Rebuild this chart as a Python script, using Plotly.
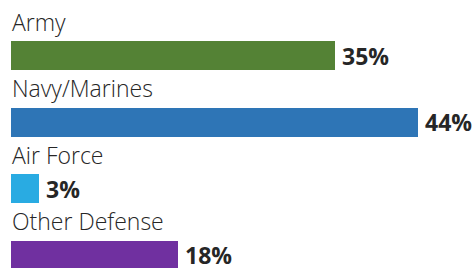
import plotly.graph_objects as go

categories = ["Army", "Navy/Marines", "Air Force", "Other Defense"]
values = [35, 44, 3, 18]
colors = ["#548235", "#2E75B6", "#29ABE2", "#7030A0"]

W, H = 476, 268
px_per_unit = 9.26
left = 11            # page x of zero
first_center = 55.5  # page y of first bar center
step = 66.5
bar_px = 29

pos = list(range(len(categories)))

fig = go.Figure()
fig.add_trace(go.Bar(
    x=values, y=pos, orientation="h",
    marker=dict(color=colors, line=dict(width=0)),
    width=bar_px / step,
    hoverinfo="skip",
))

annotations = []
for i, (c, v) in enumerate(zip(categories, values)):
    annotations.append(dict(
        x=0, y=i - 34 / step, xref="x", yref="y",
        text=c, showarrow=False, xanchor="left", yanchor="middle",
        font=dict(family="Open Sans", size=23, color="#262626", weight=300),
        xshift=-1,
    ))
    annotations.append(dict(
        x=v, y=i, xref="x", yref="y",
        text=f"{v}%", showarrow=False, xanchor="left", yanchor="middle",
        font=dict(family="Open Sans", size=23, color="#262626", weight=700),
        xshift=5, yshift=0,
    ))

top_u = (0 - first_center) / step
bot_u = (H - first_center) / step

fig.update_layout(
    width=W, height=H,
    margin=dict(l=left, r=0, t=0, b=0),
    paper_bgcolor="white", plot_bgcolor="white",
    showlegend=False,
    xaxis=dict(range=[0, (W - left) / px_per_unit], visible=False, fixedrange=True),
    yaxis=dict(range=[bot_u, top_u], visible=False, fixedrange=True),
    annotations=annotations,
    bargap=0,
)

fig.write_html(
    "out.html",
    config={"displayModeBar": False},
    post_script="document.body.style.margin='0';document.body.style.overflow='hidden';",
)
